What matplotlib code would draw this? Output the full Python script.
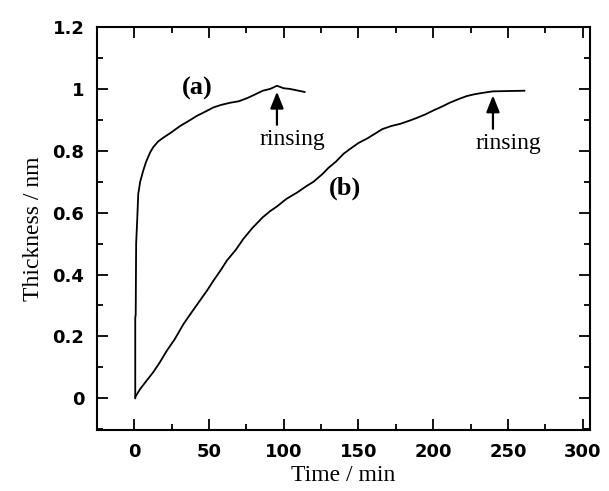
import matplotlib
matplotlib.use("Agg")
import matplotlib.pyplot as plt
from matplotlib.ticker import MultipleLocator, FixedLocator

# curve (a)
time_a = [0.7, 0.7, 1.0, 1.3, 2.0, 2.7, 4.0, 6.0, 8.0, 10.7, 12.8, 16, 19.4, 25, 30.7,
          36, 42, 47, 53, 58, 64, 70, 75.5, 80, 86, 91, 95.5, 100, 104, 109, 114]
thick_a = [0.0, 0.26, 0.27, 0.50, 0.575, 0.66, 0.70, 0.735, 0.765, 0.795, 0.812, 0.83, 0.842,
           0.86, 0.88, 0.895, 0.913, 0.925, 0.94, 0.948, 0.955, 0.96, 0.97, 0.98, 0.994,
           1.0, 1.01, 1.002, 1.0, 0.995, 0.99]

# curve (b)
time_b = [0.7, 4, 8, 12.7, 17, 22, 27, 33, 38, 44, 49, 53, 58, 62, 68, 73, 79, 86, 91,
          95.5, 102, 109, 115, 120, 126, 130, 135, 140, 145, 150, 156, 161, 166, 172, 178,
          184, 189, 195, 200, 206, 211, 217, 222.6, 228, 233, 237, 240, 250, 261]
thick_b = [0.004, 0.03, 0.055, 0.084, 0.115, 0.155, 0.19, 0.24, 0.275, 0.316, 0.35, 0.38,
           0.415, 0.445, 0.48, 0.515, 0.55, 0.585, 0.605, 0.62, 0.645, 0.665, 0.685, 0.70,
           0.725, 0.745, 0.765, 0.79, 0.808, 0.825, 0.84, 0.855, 0.87, 0.88, 0.887, 0.897,
           0.906, 0.918, 0.93, 0.943, 0.955, 0.967, 0.977, 0.983, 0.987, 0.99, 0.992, 0.993,
           0.994]

y_ticks = [0, 0.2, 0.4, 0.6, 0.8, 1.0, 1.2]
y_ticklabels = ["0", "0.2", "0.4", "0.6", "0.8", "1", "1.2"]
x_ticks = [0, 50, 100, 150, 200, 250, 300]

serif = "Liberation Serif"

fig = plt.figure(figsize=(6.09, 4.91), dpi=100)
ax = fig.add_axes([0.159, 0.124, 0.81, 0.821])

ax.plot(time_a, thick_a, color="black", lw=1.3)
ax.plot(time_b, thick_b, color="black", lw=1.3)

ax.set_xlim(-25, 305)
ax.set_ylim(-0.103, 1.2)

ax.xaxis.set_major_locator(FixedLocator(x_ticks))
ax.xaxis.set_minor_locator(MultipleLocator(25))
ax.yaxis.set_major_locator(FixedLocator(y_ticks))
ax.yaxis.set_minor_locator(MultipleLocator(0.1))
ax.set_yticklabels(y_ticklabels)

ax.tick_params(which="both", direction="in", top=True, right=True, width=1.3)
ax.tick_params(which="major", length=8, pad=9, labelsize=13)
ax.tick_params(which="minor", length=4)
for lab in ax.get_xticklabels() + ax.get_yticklabels():
    lab.set_fontweight("bold")
for s in ax.spines.values():
    s.set_linewidth(1.5)

ax.set_xlabel("Time / min", fontsize=17, family=serif, labelpad=3)
ax.set_ylabel("Thickness / nm", fontsize=17, family=serif, labelpad=6)

# labels and rinsing arrows
ax.text(42, 1.0, "(a)", fontsize=19, family=serif, fontweight="bold", ha="center", va="center")
ax.text(141, 0.68, "(b)", fontsize=19, family=serif, fontweight="bold", ha="center", va="center")

arrow = dict(arrowstyle="-|>,head_width=0.4,head_length=1.0", color="black", lw=1.6)
ax.annotate("", xy=(95.5, 1.0), xytext=(95.5, 0.875), arrowprops=arrow)
ax.text(106, 0.835, "rinsing", fontsize=17, family=serif, ha="center", va="center")

ax.annotate("", xy=(240, 0.988), xytext=(240, 0.862), arrowprops=arrow)
ax.text(250, 0.822, "rinsing", fontsize=17, family=serif, ha="center", va="center")

fig.savefig("out.png", dpi=100)
